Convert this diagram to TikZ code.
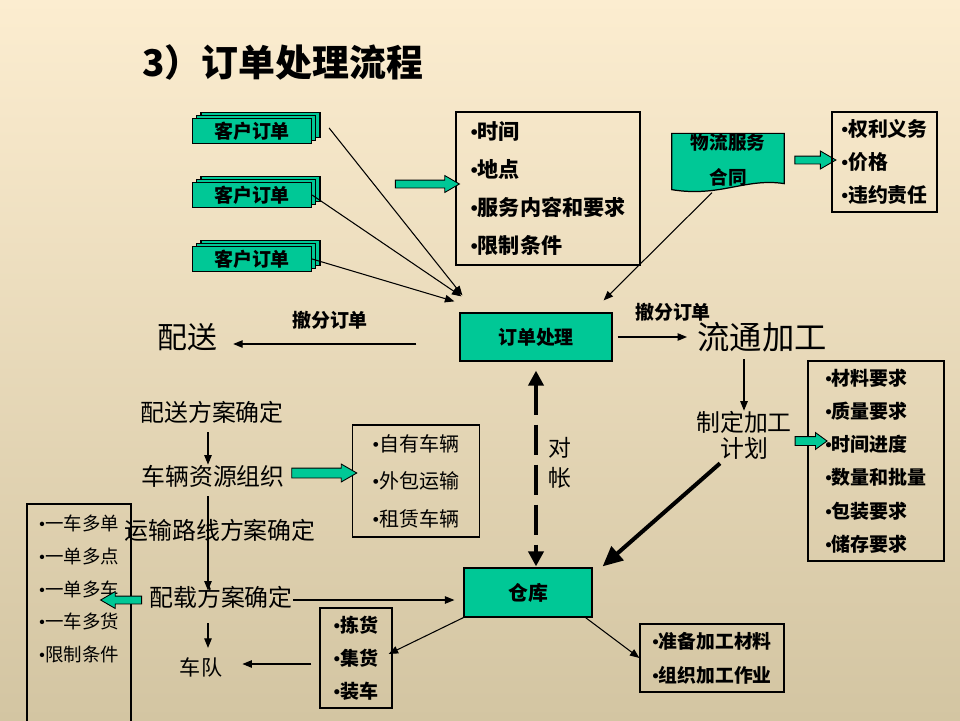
\documentclass[tikz,border=0pt]{standalone}
\usepackage{fontspec}
\usepackage{tikz}
\usetikzlibrary{arrows.meta, positioning, shapes.arrows, shadows, calc, backgrounds}
\newfontfamily\cjk{Noto Sans CJK SC}
\newfontfamily\latinfont{Liberation Serif}
\newcommand{\bul}{{\latinfont •}}
\definecolor{Ink}{HTML}{000000}
\definecolor{Jade}{HTML}{00C896}
\definecolor{BgTop}{HTML}{FCEDD0}
\definecolor{BgMid}{HTML}{F1E7D0}
\definecolor{BgBottom}{HTML}{D3C5A2}

\begin{document}
\begin{tikzpicture}[
  x=0.02cm, y=-0.02cm,
  font=\cjk,
  jadebox/.style={draw=Ink, line width=0.7pt, fill=Jade, inner sep=0pt, font=\cjk\bfseries\fontsize{10.8}{13}\selectfont},
  orderdoc/.style={jadebox, minimum width=2.38cm, minimum height=0.5cm,
    copy shadow={shadow xshift=0.17cm, shadow yshift=0.12cm, fill=Jade, draw=Ink, line width=0.7pt},
    copy shadow={shadow xshift=0.085cm, shadow yshift=0.06cm, fill=Jade, draw=Ink, line width=0.7pt}},
  listbox/.style={draw=Ink, line width=0.7pt, align=left, inner sep=0pt},
  steptext/.style={inner sep=0pt, font=\cjk\fontsize{13.6}{16}\selectfont},
  label/.style={inner sep=0pt, font=\cjk\bfseries\fontsize{10.8}{13}\selectfont},
  blockarrow/.style={single arrow, draw=Ink, line width=0.5pt, fill=Jade, inner xsep=0pt, inner ysep=0.07cm,
    single arrow head indent=0pt, single arrow tip angle=60, single arrow head extend=0.09cm},
  conn/.style={-{Triangle[length=1.9mm, width=1.5mm]}, line width=0.6pt, draw=Ink},
  heavy/.style={-{Triangle[length=4mm, width=3.6mm]}, line width=2.3pt, draw=Ink},
  recon/.style={{Triangle[length=3mm, width=3mm]}-{Triangle[length=3mm, width=3mm]}, line width=2.3pt, draw=Ink, dash pattern=on 0.6cm off 0.2cm}
]
\begin{scope}[on background layer]
  \shade[top color=BgTop, middle color=BgMid, bottom color=BgBottom] (0,0) rectangle (960,720);
\end{scope}
\useasboundingbox (0,0) rectangle (960,720);

\node[anchor=west, font=\cjk\bfseries\fontsize{21}{25}\selectfont] (title) at (136,62) {3）订单处理流程};

\node[orderdoc] (ord1) at (252,131) {客户订单};
\node[orderdoc] (ord2) at (252,195) {客户订单};
\node[orderdoc] (ord3) at (252,259) {客户订单};

\node[listbox, minimum width=3.68cm, minimum height=3.06cm, font=\cjk\bfseries\fontsize{12}{21.7}\selectfont] (terms) at (548,188.5) {\bul 时间\\\bul 地点\\\bul 服务内容和要求\\\bul 限制条件};
\node[blockarrow, minimum height=1.28cm] (toterms) at (424,184) {};

\node[minimum width=2.24cm, minimum height=1cm, inner sep=0pt, align=center, font=\cjk\bfseries\fontsize{10.6}{19.8}\selectfont] (contract) at (728,160) {物流服务\\合同};
\begin{scope}[on background layer]
  \filldraw[draw=Ink, line width=0.7pt, fill=Jade] (contract.north west) -- (contract.north east) -- ($(contract.south east)+(0,-3)$)
    .. controls ($(contract.south east)+(-39,-9)$) and ($(contract.south west)+(48,11)$) .. ($(contract.south west)+(0,3)$) -- cycle;
\end{scope}
\node[blockarrow, minimum height=0.82cm, single arrow head extend=0.1cm] (torights) at (812,160) {};
\node[listbox, minimum width=2.1cm, minimum height=2cm, font=\cjk\bfseries\fontsize{11.3}{19}\selectfont] (rights) at (884.5,162) {\bul 权利义务\\\bul 价格\\\bul 违约责任};

\node[jadebox, minimum width=3.04cm, minimum height=0.96cm] (proc) at (536,337) {订单处理};

\node[label] (splitl) at (330,320) {撤分订单};
\node[inner sep=0pt, font=\cjk\fontsize{17}{20}\selectfont] (peisong) at (187,337) {配送};
\node[label] (splitr) at (673,312) {撤分订单};
\node[inner sep=0pt, font=\cjk\fontsize{18.4}{22}\selectfont] (liutong) at (762,337) {流通加工};
\node[steptext, align=center, font=\cjk\fontsize{13.6}{14.7}\selectfont] (plan) at (744,435) {制定加工\\计划};
\node[listbox, minimum width=2.72cm, minimum height=4cm, font=\cjk\bfseries\fontsize{10.8}{18.9}\selectfont] (reqs) at (876,461) {\bul 材料要求\\\bul 质量要求\\\bul 时间进度\\\bul 数量和批量\\\bul 包装要求\\\bul 储存要求};
\node[blockarrow, minimum height=0.64cm, inner ysep=0.08cm, single arrow head extend=0.08cm, single arrow tip angle=72] (toreqs) at (808,441) {};
\node[align=center, inner sep=0pt, font=\cjk\fontsize{13}{17}\selectfont] (recontext) at (560,463) {对\\帐};
\node[jadebox, minimum width=2.56cm, minimum height=0.98cm, font=\cjk\bfseries\fontsize{11.3}{13}\selectfont] (store) at (528,592.5) {仓库};

\node[steptext] (psplan) at (212,412) {配送方案确定};
\node[steptext] (vehorg) at (213,476) {车辆资源组织};
\node[steptext] (route) at (220,530) {运输路线方案确定};
\node[steptext] (loadplan) at (221,597) {配载方案确定};
\node[steptext, font=\cjk\fontsize{12}{14}\selectfont] (fleet) at (201,667) {车队};
\coordinate (spine) at (208,0);

\node[listbox, minimum width=2.54cm, minimum height=2.24cm, font=\cjk\fontsize{11.4}{21.3}\selectfont] (vehicles) at (416,481) {\bul 自有车辆\\\bul 外包运输\\\bul 租赁车辆};
\node[blockarrow, minimum height=1.3cm, inner ysep=0.09cm, single arrow head extend=0.08cm] (tovehicles) at (320,473) {};

\draw[line width=0.7pt, draw=Ink] (27,504) rectangle (131,724);
\node[align=left, inner sep=0pt, font=\cjk\fontsize{10.5}{18.7}\selectfont] (loadlist) at (79,589) {\bul 一车多单\\\bul 一单多点\\\bul 一单多车\\\bul 一车多货\\\bul 限制条件};
\node[blockarrow, shape border rotate=180, minimum height=0.82cm] (toloadlist) at (124.5,600) {};

\node[listbox, minimum width=1.44cm, minimum height=2cm, font=\cjk\bfseries\fontsize{10.8}{18.7}\selectfont] (picking) at (356,658) {\bul 拣货\\\bul 集货\\\bul 装车};
\node[listbox, minimum width=2.88cm, minimum height=1.36cm, font=\cjk\bfseries\fontsize{10.7}{19.3}\selectfont] (prep) at (712,658) {\bul 准备加工材料\\\bul 组织加工作业};

\draw[conn] ([xshift=0.34cm,yshift=0.06cm]ord1.east) -- ([xshift=0.06cm,yshift=0.34cm]proc.north west);
\draw[conn] (ord2.east) -- ([xshift=0.04cm,yshift=0.32cm]proc.north west);
\draw[conn] (ord3.east) -- ([xshift=-0.1cm,yshift=0.22cm]proc.north west);
\draw[conn] ([xshift=-0.32cm,yshift=-0.12cm]contract.south) -- ([xshift=-0.18cm,yshift=0.24cm]proc.north east);
\draw[conn] ([xshift=-0.86cm,yshift=-0.14cm]proc.west) -- ([xshift=0.32cm,yshift=-0.14cm]peisong.east);
\draw[conn] ([xshift=0.1cm]proc.east) -- ([xshift=-0.2cm]liutong.west);
\draw[conn] ($(plan.north |- liutong.south)+(0,7)$) -- (plan.north);
\draw[heavy] ($(plan.south)+(-24,4)$) -- ([xshift=0.2cm,yshift=0.02cm]store.north east);
\draw[recon] ([yshift=-0.18cm]proc.south) -- ([yshift=0.02cm]proc.south |- store.north);

\draw[conn] ($(spine |- psplan.south)+(0,9)$) -- (spine |- vehorg.north);
\draw[conn] ($(spine |- vehorg.south)+(0,9)$) -- ($(spine |- loadplan.north)+(0,5)$);
\draw[conn] ($(spine |- loadplan.south)+(0,15)$) -- ($(spine |- fleet.north)+(0,-9)$);
\draw[conn] ($(loadplan.east)+(0,3)$) -- ($(store.west |- loadplan.east)+(-9,3)$);
\draw[conn] ($(fleet.east -| picking.west)+(-8,-3)$) -- ($(fleet.east)+(20,-3)$);
\draw[conn] (store.south west) -- ($(picking.east)+(-4,-4)$);
\draw[conn] ([xshift=-0.14cm]store.south east) -- (prep.west);
\end{tikzpicture}
\end{document}
